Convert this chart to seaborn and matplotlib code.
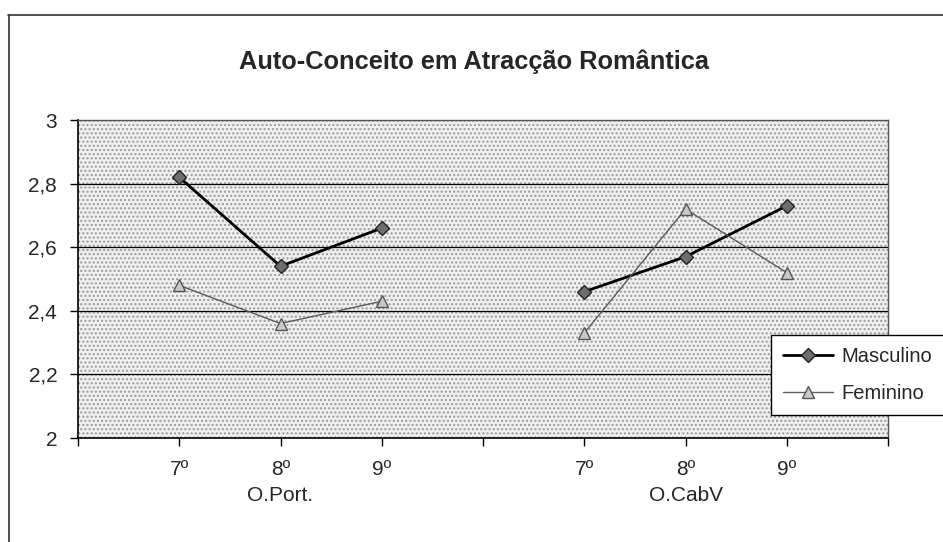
import pandas as pd
import numpy as np
import matplotlib
matplotlib.use('Agg')
import matplotlib.pyplot as plt
import seaborn as sns
from matplotlib.lines import Line2D
from matplotlib.patches import Rectangle

# data
grades = ['7º', '8º', '9º']
groups = ['O.Port.', 'O.CabV']
masculino = [2.82, 2.54, 2.66, 2.46, 2.57, 2.73]
feminino = [2.48, 2.36, 2.43, 2.33, 2.72, 2.52]
yticks = [2, 2.2, 2.4, 2.6, 2.8, 3]

sns.set_style('white')
plt.rcParams['font.family'] = ['Liberation Sans', 'DejaVu Sans']

# each group takes 4 category slots: 3 grades plus one empty slot
rows = []
for sexo, vals in [('Masculino', masculino), ('Feminino', feminino)]:
    for k, v in enumerate(vals):
        g, i = divmod(k, 3)
        rows.append({'sexo': sexo, 'grupo': groups[g], 'grade': grades[i],
                     'pos': 1 + g * 4 + i, 'valor': v})
df = pd.DataFrame(rows)

fig = plt.figure(figsize=(9.43, 5.42), dpi=100)
ax = fig.add_axes([78 / 943, 1 - 438 / 542, 810 / 943, 318 / 542])

# dotted grey plot area
ax.set_facecolor('#efefef')
ax.add_patch(Rectangle((0, 0), 1, 1, transform=ax.transAxes, facecolor='none',
                       edgecolor='#9a9a9a', linewidth=0, hatch='....', zorder=0))

for t in yticks[1:-1]:
    ax.axhline(t, color='black', lw=0.9, zorder=1)

styles = {
    'Masculino': dict(color='black', marker='D', markersize=7, markerfacecolor='#6e6e6e',
                      markeredgecolor='#222222', markeredgewidth=1, linewidth=2.0),
    'Feminino': dict(color='#5a5a5a', marker='^', markersize=8, markerfacecolor='#c8c8c8',
                     markeredgecolor='#555555', markeredgewidth=1, linewidth=1.0),
}
for sexo, kw in styles.items():
    sns.lineplot(data=df[df['sexo'] == sexo], x='pos', y='valor', units='grupo',
                 estimator=None, legend=False, ax=ax, zorder=3, **kw)

ax.set_xlim(0, 8)
ax.set_ylim(2, 3)
ax.set_yticks(yticks)
ax.set_yticklabels([('%g' % t).replace('.', ',') for t in yticks])
ax.xaxis.remove_overlapping_locs = False
ax.set_xticks(np.arange(0, 9))
ax.set_xticklabels([])
ax.set_xticks(df['pos'].unique(), minor=True)
ax.set_xticklabels(grades * len(groups), minor=True)
ax.tick_params(axis='x', which='major', bottom=True, direction='out', length=6,
               width=1, color='black')
ax.tick_params(axis='x', which='minor', bottom=True, length=0, pad=16, labelsize=15)
ax.tick_params(axis='y', left=True, direction='out', length=6, width=1, color='black',
               pad=9, labelsize=15)
ax.set_xlabel('')
ax.set_ylabel('')

for g, name in enumerate(groups):
    ax.text(2 + g * 4, -0.18, name, transform=ax.get_xaxis_transform(),
            ha='center', va='center', fontsize=15)

for side in ['left', 'bottom']:
    ax.spines[side].set_color('black')
    ax.spines[side].set_linewidth(1.2)
for side in ['top', 'right']:
    ax.spines[side].set_color('#555555')
    ax.spines[side].set_linewidth(1)
    ax.spines[side].set_linestyle((0, (2, 1)))

# title is centred on the whole chart frame, not the plot area
fig.text(474 / 943, 1 - 62 / 542, 'Auto-Conceito em Atracção Romântica',
         ha='center', va='center', fontsize=18.3, fontweight='bold')

handles = [Line2D([], [], label=s, **kw) for s, kw in styles.items()]
leg = fig.legend(handles=handles, loc='upper left',
                 bbox_to_anchor=(771 / 943, 1 - 335 / 542), fontsize=14.5,
                 frameon=True, fancybox=False, edgecolor='black', framealpha=1,
                 handlelength=2.5, borderpad=0.6, labelspacing=0.9, handletextpad=0.4,
                 borderaxespad=0)
leg.get_frame().set_linewidth(1)

# outer chart frame (top and left edges visible)
fig.add_artist(Line2D([8 / 943, 1], [1 - 15 / 542] * 2, transform=fig.transFigure,
                      color='#333333', lw=1.2))
fig.add_artist(Line2D([9 / 943] * 2, [0, 1 - 15 / 542], transform=fig.transFigure,
                      color='#333333', lw=1.2))

plt.savefig('out.png', dpi=100)
